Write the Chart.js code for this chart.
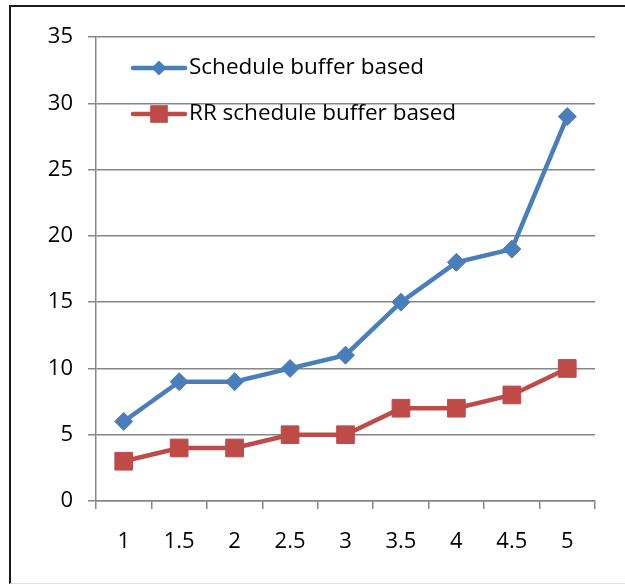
<!DOCTYPE html>
<html>
<head>
<meta charset="utf-8">
<script src="https://cdn.jsdelivr.net/npm/chart.js@4/dist/chart.umd.min.js"></script>
<style>
  html, body { margin: 0; padding: 0; background: #fff; }
  #wrap { position: relative; width: 625px; height: 585px; overflow: hidden; }
  #frame { position: absolute; left: 9px; top: 5px; width: 700px; height: 576px;
           border-top: 2px solid #1a1a1a; border-left: 2px solid #1a1a1a; border-bottom: 1px solid #e0e0e0; }
  canvas { position: absolute; left: 0; top: 0; }
</style>
</head>
<body>
<div id="wrap">
  <div id="frame"></div>
  <canvas id="c" width="625" height="585"></canvas>
</div>
<script>
const categories = ['1', '1.5', '2', '2.5', '3', '3.5', '4', '4.5', '5'];
const scheduleBuffer = [6, 9, 9, 10, 11, 15, 18, 19, 29];
const rrScheduleBuffer = [3, 4, 4, 5, 5, 7, 7, 8, 10];
const yTicks = [0, 5, 10, 15, 20, 25, 30, 35];

const BLUE = '#4A7EBB';
const RED = '#BE4B48';
const FONT = '"Open Sans", "Noto Sans", sans-serif';

const insideLegend = {
  id: 'insideLegend',
  afterDatasetsDraw(chart) {
    const ctx = chart.ctx;
    const ca = chart.chartArea;
    const items = [
      { ds: chart.data.datasets[0], y: 68 },
      { ds: chart.data.datasets[1], y: 114 }
    ];
    ctx.save();
    items.forEach(it => {
      const x0 = ca.left + 37, x1 = ca.left + 89;
      ctx.strokeStyle = it.ds.borderColor;
      ctx.lineWidth = it.ds.borderWidth;
      ctx.lineCap = 'round';
      ctx.beginPath();
      ctx.moveTo(x0, it.y);
      ctx.lineTo(x1, it.y);
      ctx.stroke();
      ctx.fillStyle = it.ds.pointBackgroundColor;
      const r = it.ds.pointStyle === 'rectRot' ? 7.5 : it.ds.pointRadius;
      const cx = (x0 + x1) / 2;
      ctx.beginPath();
      if (it.ds.pointStyle === 'rectRot') {
        ctx.moveTo(cx - r, it.y); ctx.lineTo(cx, it.y - r); ctx.lineTo(cx + r, it.y); ctx.lineTo(cx, it.y + r);
      } else {
        const s = r * Math.SQRT1_2;
        ctx.rect(cx - s, it.y - s, 2 * s, 2 * s);
      }
      ctx.closePath();
      ctx.fill();
      ctx.fillStyle = '#000';
      ctx.font = '22.5px ' + FONT;
      ctx.textBaseline = 'middle';
      ctx.textAlign = 'left';
      ctx.fillText(it.ds.label, x1 + 4, it.y);
    });
    ctx.restore();
  }
};

new Chart(document.getElementById('c'), {
  type: 'line',
  data: {
    labels: categories,
    datasets: [
      {
        label: 'Schedule buffer based',
        data: scheduleBuffer,
        borderColor: BLUE,
        backgroundColor: BLUE,
        pointBackgroundColor: BLUE,
        pointBorderColor: BLUE,
        borderWidth: 4.5,
        pointStyle: 'rectRot',
        pointRadius: 9,
        pointBorderWidth: 1,
        tension: 0,
        clip: false
      },
      {
        label: 'RR schedule buffer based',
        data: rrScheduleBuffer,
        borderColor: RED,
        backgroundColor: RED,
        pointBackgroundColor: RED,
        pointBorderColor: RED,
        borderWidth: 4.5,
        pointStyle: 'rect',
        pointRadius: 12.5,
        pointBorderWidth: 1,
        tension: 0,
        clip: false
      }
    ]
  },
  options: {
    responsive: false,
    animation: false,
    devicePixelRatio: 1,
    layout: { padding: { left: 0, top: 37, right: 30, bottom: 0 } },
    plugins: { legend: { display: false }, tooltip: { enabled: false } },
    scales: {
      x: {
        type: 'category',
        offset: true,
        grid: { offset: true, drawOnChartArea: false, drawTicks: true, tickLength: 8, color: '#868686', lineWidth: 1.5 },
        border: { display: true, color: '#868686', width: 1.5 },
        ticks: { color: '#000', font: { family: FONT, size: 22 }, padding: 20, maxRotation: 0, autoSkip: false },
        afterFit(s) { s.height = 84; }
      },
      y: {
        min: 0, max: 35,
        afterBuildTicks(s) { s.ticks = yTicks.map(v => ({ value: v })); },
        grid: { color: '#868686', lineWidth: 1.5, tickLength: 8, drawTicks: true },
        border: { display: true, color: '#868686', width: 1.5 },
        ticks: { color: '#000', font: { family: FONT, size: 22 }, padding: 15 },
        afterFit(s) { s.width = 96; }
      }
    }
  },
  plugins: [insideLegend]
});
</script>
</body>
</html>
